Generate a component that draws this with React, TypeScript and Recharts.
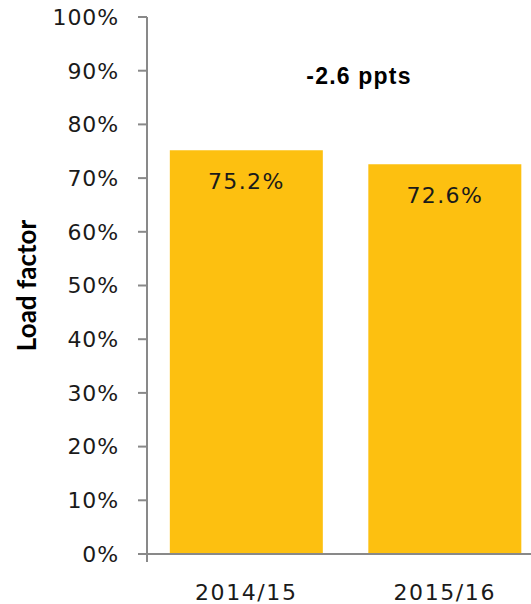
import React from 'react';
import { BarChart, Bar, XAxis, YAxis, LabelList } from 'recharts';

const years = ['2014/15', '2015/16'];
const loadFactor = [75.2, 72.6];
const yTicks = [0, 10, 20, 30, 40, 50, 60, 70, 80, 90, 100];
const edgeTicks = [0, 1, 2];
const changeNote = '-2.6 ppts';
const axisTitle = 'Load factor';

const data = years.map((year, i) => ({ year, value: loadFactor[i] }));

const AXIS = '#898989';
const BAR = '#FDC010';
const TEXT = '#1a1a1a';
const FONT = '"DejaVu Sans", Verdana, sans-serif';

export default function App() {
  return (
    <div style={{ position: 'absolute', left: 0, top: 0, width: 531, height: 604, overflow: 'hidden', background: '#fff' }}>
      <BarChart
        width={560}
        height={604}
        data={data}
        margin={{ top: 17, right: 16, left: 0, bottom: 0 }}
        barCategoryGap="11.5%"
      >
        {/* plain axis just for the boundary ticks between categories */}
        <XAxis
          xAxisId="a"
          type="number"
          domain={[0, 2]}
          ticks={edgeTicks}
          allowDataOverflow
          height={1}
          tick={() => null}
          tickSize={8}
          tickLine={{ stroke: AXIS, strokeWidth: 2 }}
          axisLine={{ stroke: AXIS, strokeWidth: 2 }}
        />
        <XAxis
          xAxisId="b"
          dataKey="year"
          height={49}
          axisLine={false}
          tickLine={false}
          tickSize={0}
          tickMargin={29}
          tick={{ fontSize: 22, fill: TEXT, fontFamily: FONT, letterSpacing: 1.6 }}
        />
        <YAxis
          width={147}
          domain={[0, 100]}
          ticks={yTicks}
          interval={0}
          tickFormatter={(v: number) => `${v}%`}
          tickSize={9}
          tickMargin={19}
          tick={{ fontSize: 22, fill: TEXT, fontFamily: FONT, letterSpacing: 0.9 }}
          tickLine={{ stroke: AXIS, strokeWidth: 2 }}
          axisLine={{ stroke: AXIS, strokeWidth: 2 }}
          label={{
            content: ({ viewBox }: any) => {
              const x = viewBox.x + 36;
              const y = viewBox.y + viewBox.height / 2;
              return (
                <text
                  x={x}
                  y={y}
                  transform={`rotate(-90, ${x}, ${y})`}
                  textAnchor="middle"
                  fontFamily="Lato, 'Open Sans', sans-serif"
                  fontWeight={700}
                  fontSize={26}
                  fill="#000"
                >
                  {axisTitle}
                </text>
              );
            },
          }}
        />
        <Bar dataKey="value" xAxisId="b" fill={BAR} isAnimationActive={false}>
          <LabelList
            dataKey="value"
            position="insideTop"
            offset={23}
            formatter={(v: number) => `${v.toFixed(1)}%`}
            style={{ fontSize: 22, fill: TEXT, fontFamily: FONT, letterSpacing: 1.4 }}
          />
        </Bar>
      </BarChart>
      <div
        style={{
          position: 'absolute',
          left: 259,
          top: 65,
          width: 200,
          textAlign: 'center',
          fontFamily: '"Liberation Sans", Arial, sans-serif',
          fontWeight: 700,
          fontSize: 23,
          lineHeight: '22px',
          letterSpacing: 1.2,
          color: '#000',
        }}
      >
        {changeNote}
      </div>
    </div>
  );
}
